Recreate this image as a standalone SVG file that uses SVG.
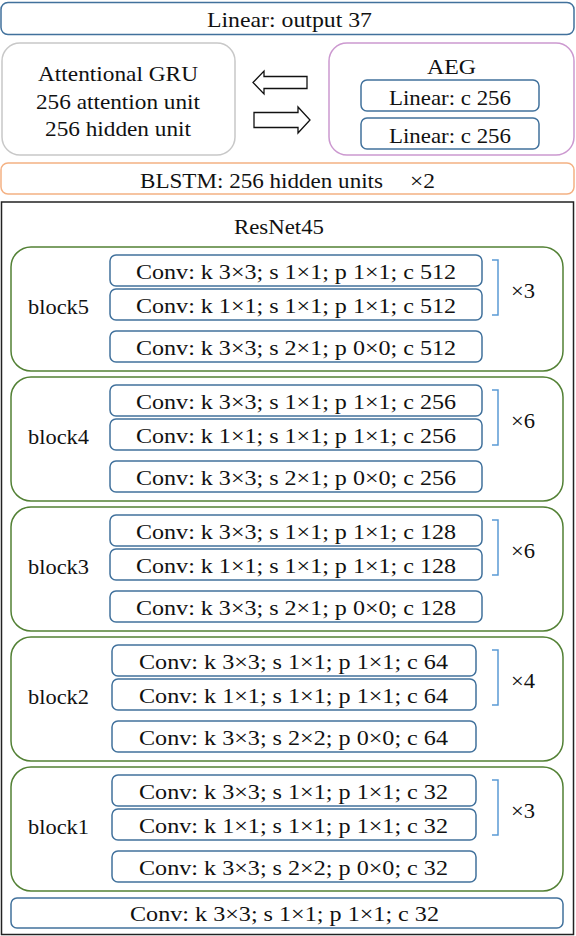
<svg xmlns="http://www.w3.org/2000/svg" width="576" height="936" viewBox="0 0 576 936">
<style>
text{font-family:"Liberation Serif","Times New Roman",serif;font-size:22px;fill:#111;text-anchor:middle;dominant-baseline:central}
.blue{fill:#fff;stroke:#41719c;stroke-width:1.5}
.green{fill:#fff;stroke:#538135;stroke-width:1.5}
.br{fill:none;stroke:#5b9bd5;stroke-width:1.5}
.arr{fill:#fff;stroke:#111;stroke-width:1.3;stroke-linejoin:miter}
</style>
<rect width="576" height="936" fill="#fff"/>
<g id="linear-out"><rect class="blue" x="1" y="2.5" width="573" height="32" rx="7"/><text x="289.5" y="19" textLength="165" lengthAdjust="spacingAndGlyphs">Linear: output 37</text></g>
<g id="gru"><rect x="2" y="43" width="233" height="112" rx="18" fill="#fff" stroke="#c8c8c8" stroke-width="1.5"/>
<text x="118" y="73" textLength="160" lengthAdjust="spacingAndGlyphs">Attentional GRU</text><text x="118" y="101" textLength="164" lengthAdjust="spacingAndGlyphs">256 attention unit</text><text x="118" y="128" textLength="146" lengthAdjust="spacingAndGlyphs">256 hidden unit</text></g>
<g id="aeg"><rect x="329" y="43" width="245" height="112" rx="18" fill="#fff" stroke="#cc99d0" stroke-width="1.5"/>
<text x="451.5" y="66" textLength="49" lengthAdjust="spacingAndGlyphs">AEG</text>
<rect class="blue" x="361" y="80" width="178" height="31" rx="6"/><text x="450" y="97" textLength="122" lengthAdjust="spacingAndGlyphs">Linear: c 256</text>
<rect class="blue" x="361" y="118" width="178" height="31" rx="6"/><text x="450" y="135" textLength="122" lengthAdjust="spacingAndGlyphs">Linear: c 256</text></g>
<g id="connectors">
<polygon class="arr" points="253,82.5 264,71 264,76.5 307,76.5 307,88.5 264,88.5 264,94"/>
<polygon class="arr" points="254,112.5 298,112.5 298,107 310,120 298,133 298,127.5 254,127.5"/>
</g>
<g id="blstm"><rect x="1" y="163" width="573" height="31" rx="7" fill="#fff" stroke="#f4b183" stroke-width="1.5"/><text x="261.5" y="180" textLength="243" lengthAdjust="spacingAndGlyphs">BLSTM: 256 hidden units</text><text x="422.5" y="180" textLength="25" lengthAdjust="spacingAndGlyphs">×2</text></g>
<g id="resnet"><rect x="1.5" y="202" width="572" height="732.5" fill="#fff" stroke="#222" stroke-width="1.5"/><text x="279" y="226" textLength="90" lengthAdjust="spacingAndGlyphs">ResNet45</text></g>
<g id="block5"><rect class="green" x="11" y="247" width="552" height="124" rx="20"/><text x="58.5" y="306" textLength="61" lengthAdjust="spacingAndGlyphs">block5</text>
<rect class="blue" x="110" y="255" width="372" height="31" rx="6"/><text x="296" y="271" textLength="320" lengthAdjust="spacingAndGlyphs">Conv: k 3×3; s 1×1; p 1×1; c 512</text>
<rect class="blue" x="110" y="289" width="372" height="31" rx="6"/><text x="296" y="305" textLength="320" lengthAdjust="spacingAndGlyphs">Conv: k 1×1; s 1×1; p 1×1; c 512</text>
<rect class="blue" x="110" y="331" width="372" height="31" rx="6"/><text x="296" y="347" textLength="320" lengthAdjust="spacingAndGlyphs">Conv: k 3×3; s 2×1; p 0×0; c 512</text>
<polyline class="br" points="492,260 498,260 498,315 492,315"/><text x="523" y="290" textLength="24" lengthAdjust="spacingAndGlyphs">×3</text></g>
<g id="block4"><rect class="green" x="11" y="377" width="552" height="124" rx="20"/><text x="58.5" y="436" textLength="61" lengthAdjust="spacingAndGlyphs">block4</text>
<rect class="blue" x="110" y="385" width="372" height="31" rx="6"/><text x="296" y="401" textLength="320" lengthAdjust="spacingAndGlyphs">Conv: k 3×3; s 1×1; p 1×1; c 256</text>
<rect class="blue" x="110" y="419" width="372" height="31" rx="6"/><text x="296" y="435" textLength="320" lengthAdjust="spacingAndGlyphs">Conv: k 1×1; s 1×1; p 1×1; c 256</text>
<rect class="blue" x="110" y="461" width="372" height="31" rx="6"/><text x="296" y="477" textLength="320" lengthAdjust="spacingAndGlyphs">Conv: k 3×3; s 2×1; p 0×0; c 256</text>
<polyline class="br" points="492,390 498,390 498,445 492,445"/><text x="523" y="420" textLength="24" lengthAdjust="spacingAndGlyphs">×6</text></g>
<g id="block3"><rect class="green" x="11" y="507" width="552" height="124" rx="20"/><text x="58.5" y="566" textLength="61" lengthAdjust="spacingAndGlyphs">block3</text>
<rect class="blue" x="110" y="515" width="372" height="31" rx="6"/><text x="296" y="531" textLength="320" lengthAdjust="spacingAndGlyphs">Conv: k 3×3; s 1×1; p 1×1; c 128</text>
<rect class="blue" x="110" y="549" width="372" height="31" rx="6"/><text x="296" y="565" textLength="320" lengthAdjust="spacingAndGlyphs">Conv: k 1×1; s 1×1; p 1×1; c 128</text>
<rect class="blue" x="110" y="591" width="372" height="31" rx="6"/><text x="296" y="607" textLength="320" lengthAdjust="spacingAndGlyphs">Conv: k 3×3; s 2×1; p 0×0; c 128</text>
<polyline class="br" points="492,520 498,520 498,575 492,575"/><text x="523" y="550" textLength="24" lengthAdjust="spacingAndGlyphs">×6</text></g>
<g id="block2"><rect class="green" x="11" y="637" width="552" height="124" rx="20"/><text x="58.5" y="696" textLength="61" lengthAdjust="spacingAndGlyphs">block2</text>
<rect class="blue" x="112" y="645" width="364" height="31" rx="6"/><text x="293.5" y="661" textLength="309" lengthAdjust="spacingAndGlyphs">Conv: k 3×3; s 1×1; p 1×1; c 64</text>
<rect class="blue" x="112" y="679" width="364" height="31" rx="6"/><text x="293.5" y="695" textLength="309" lengthAdjust="spacingAndGlyphs">Conv: k 1×1; s 1×1; p 1×1; c 64</text>
<rect class="blue" x="112" y="721" width="364" height="31" rx="6"/><text x="293.5" y="737" textLength="309" lengthAdjust="spacingAndGlyphs">Conv: k 3×3; s 2×2; p 0×0; c 64</text>
<polyline class="br" points="492,650 498,650 498,705 492,705"/><text x="523" y="680" textLength="24" lengthAdjust="spacingAndGlyphs">×4</text></g>
<g id="block1"><rect class="green" x="11" y="767" width="552" height="124" rx="20"/><text x="58.5" y="826" textLength="61" lengthAdjust="spacingAndGlyphs">block1</text>
<rect class="blue" x="112" y="775" width="364" height="31" rx="6"/><text x="293.5" y="791" textLength="309" lengthAdjust="spacingAndGlyphs">Conv: k 3×3; s 1×1; p 1×1; c 32</text>
<rect class="blue" x="112" y="809" width="364" height="31" rx="6"/><text x="293.5" y="825" textLength="309" lengthAdjust="spacingAndGlyphs">Conv: k 1×1; s 1×1; p 1×1; c 32</text>
<rect class="blue" x="112" y="851" width="364" height="31" rx="6"/><text x="293.5" y="867" textLength="309" lengthAdjust="spacingAndGlyphs">Conv: k 3×3; s 2×2; p 0×0; c 32</text>
<polyline class="br" points="492,780 498,780 498,835 492,835"/><text x="523" y="810" textLength="24" lengthAdjust="spacingAndGlyphs">×3</text></g>
<g id="conv0"><rect class="blue" x="11" y="898" width="552" height="30" rx="6"/><text x="284.5" y="913" textLength="309" lengthAdjust="spacingAndGlyphs">Conv: k 3×3; s 1×1; p 1×1; c 32</text></g>
</svg>
